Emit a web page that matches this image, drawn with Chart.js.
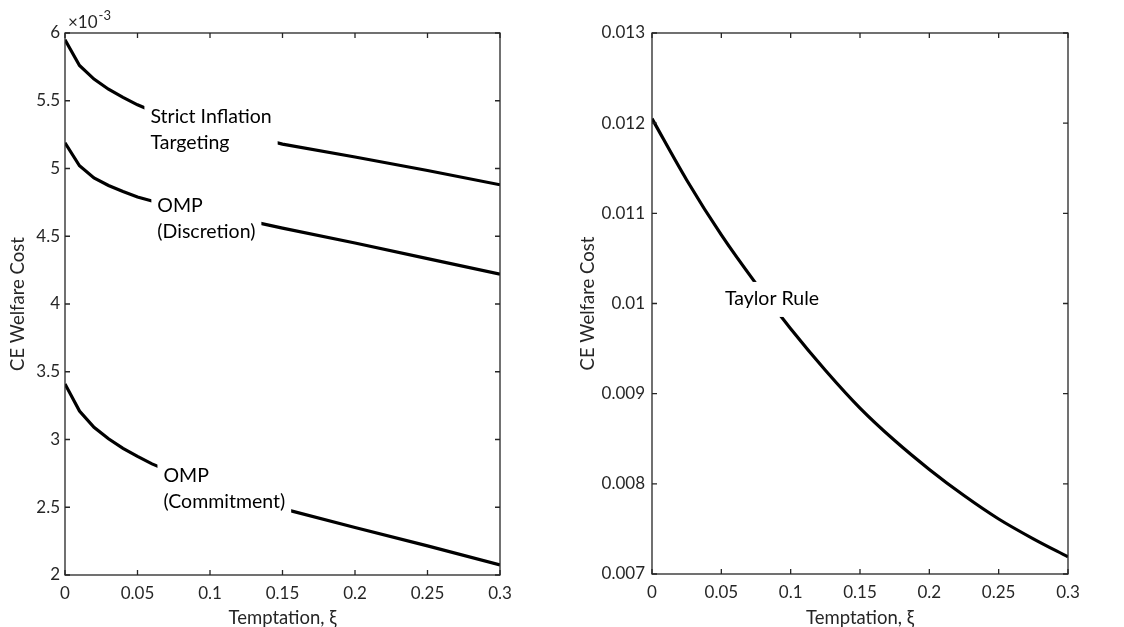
<!DOCTYPE html>
<html>
<head>
<meta charset="utf-8">
<script src="https://cdn.jsdelivr.net/npm/chart.js@4.4.0/dist/chart.umd.min.js"></script>
<style>
  body { margin: 0; background: #fff; }
  #left { position: absolute; left: 0; top: 0; }
  #right { position: absolute; left: 560px; top: 0; }
</style>
</head>
<body>
<canvas id="left" width="560" height="627"></canvas>
<canvas id="right" width="564" height="627"></canvas>
<script>
// temptation grid, left panel costs are in units of 1e-3
var xiLeft = [0, 0.01, 0.02, 0.03, 0.04, 0.05, 0.06, 0.08, 0.10, 0.12, 0.15, 0.20, 0.25, 0.30];
var strictIT = [5.95, 5.76, 5.66, 5.585, 5.525, 5.47, 5.425, 5.37, 5.31, 5.26, 5.18, 5.085, 4.985, 4.88];
var ompDiscretion = [5.19, 5.02, 4.93, 4.875, 4.83, 4.79, 4.76, 4.71, 4.67, 4.63, 4.56, 4.45, 4.335, 4.22];
var ompCommitment = [3.41, 3.21, 3.09, 3.005, 2.935, 2.875, 2.82, 2.73, 2.66, 2.59, 2.49, 2.35, 2.215, 2.075];

var xiRight = [0, 0.025, 0.05, 0.075, 0.1, 0.125, 0.15, 0.175, 0.2, 0.225, 0.25, 0.275, 0.3];
var taylorRule = [0.01205, 0.01137, 0.01076, 0.01022, 0.00972, 0.00926, 0.00884, 0.00848, 0.00816, 0.00787, 0.00761, 0.00739, 0.00719];

var xTicks = [0, 0.05, 0.1, 0.15, 0.2, 0.25, 0.3];
var yTicksLeft = [2, 2.5, 3, 3.5, 4, 4.5, 5, 5.5, 6];
var yTicksRight = [0.007, 0.008, 0.009, 0.01, 0.011, 0.012, 0.013];

var axisColor = '#262626';
var fontName = 'Lato, "DejaVu Sans", sans-serif';

function toPoints(xs, ys) {
    return xs.map(function (x, i) { return {x: x, y: ys[i]}; });
}

function fixedTicks(list) {
    return function (scale) {
        scale.ticks = list.map(function (v) { return {value: v}; });
    };
}

// closed box with short inward ticks on all four sides
var boxPlugin = {
    id: 'box',
    afterDraw: function (chart, args, opts) {
        var ctx = chart.ctx;
        var a = chart.chartArea;
        var sx = chart.scales.x, sy = chart.scales.y;
        ctx.save();
        ctx.strokeStyle = axisColor;
        ctx.lineWidth = 1.3;
        ctx.beginPath();
        sx.ticks.forEach(function (t) {
            var px = sx.getPixelForValue(t.value);
            ctx.moveTo(px, a.bottom); ctx.lineTo(px, a.bottom - 5);
            ctx.moveTo(px, a.top); ctx.lineTo(px, a.top + 5);
        });
        sy.ticks.forEach(function (t) {
            var py = sy.getPixelForValue(t.value);
            ctx.moveTo(a.left, py); ctx.lineTo(a.left + 5, py);
            ctx.moveTo(a.right, py); ctx.lineTo(a.right - 5, py);
        });
        ctx.stroke();
        ctx.strokeRect(a.left, a.top, a.right - a.left, a.bottom - a.top);

        // exponent note above the y axis
        if (opts.exponent) {
            ctx.fillStyle = axisColor;
            ctx.textBaseline = 'alphabetic';
            ctx.textAlign = 'left';
            ctx.font = '17px ' + fontName;
            ctx.fillText('\u00d710', a.left + 3, 28);
            var w = ctx.measureText('\u00d710').width;
            ctx.font = '13px ' + fontName;
            ctx.fillText(opts.exponent, a.left + 3 + w + 1, 20);
        }
        ctx.restore();
    }
};

// curve names on a white background, laid over the lines
var labelPlugin = {
    id: 'curveLabels',
    afterDatasetsDraw: function (chart, args, opts) {
        var ctx = chart.ctx;
        ctx.save();
        ctx.font = '19.5px ' + fontName;
        ctx.textAlign = 'left';
        ctx.textBaseline = 'alphabetic';
        (opts.items || []).forEach(function (item) {
            var px = chart.scales.x.getPixelForValue(item.x);
            var py = chart.scales.y.getPixelForValue(item.y);
            var w = Math.max.apply(null, item.lines.map(function (s) { return ctx.measureText(s).width; }));
            var h = (item.lines.length - 1) * 26;
            ctx.fillStyle = '#fff';
            ctx.fillRect(px - 6, py - 23, w + 12, h + 35);
            ctx.fillStyle = '#000';
            item.lines.forEach(function (s, i) { ctx.fillText(s, px, py + i * 26); });
        });
        ctx.restore();
    }
};

function lineSet(xs, ys, smooth) {
    return {
        data: toPoints(xs, ys),
        borderColor: '#000',
        borderWidth: 3.2,
        pointRadius: 0,
        fill: false,
        tension: 0,
        cubicInterpolationMode: smooth ? 'monotone' : 'default'
    };
}

function axisFont(size) {
    return {family: fontName, size: size};
}

function makeChart(id, datasets, yTicks, yAxisWidth, xAxisHeight, pad, titlePad, labelPad, labels, exponent) {
    var ctx = document.getElementById(id).getContext('2d');
    return new Chart(ctx, {
        type: 'line',
        data: {datasets: datasets},
        plugins: [labelPlugin, boxPlugin],
        options: {
            responsive: false,
            animation: false,
            events: [],
            layout: {padding: pad},
            plugins: {
                legend: {display: false},
                tooltip: {enabled: false},
                curveLabels: {items: labels},
                box: {exponent: exponent}
            },
            scales: {
                x: {
                    type: 'linear',
                    min: 0,
                    max: 0.3,
                    afterBuildTicks: fixedTicks(xTicks),
                    afterFit: function (s) { s.height = xAxisHeight; },
                    grid: {display: false, drawTicks: false},
                    border: {display: false},
                    ticks: {
                        color: axisColor, font: axisFont(17), padding: 8,
                        maxRotation: 0, autoSkip: false,
                        callback: function (v) { return String(v); }
                    },
                    title: {
                        display: true, text: 'Temptation, \u03be', color: axisColor,
                        font: axisFont(18.5), padding: {top: 0, bottom: -2}
                    }
                },
                y: {
                    type: 'linear',
                    min: yTicks[0],
                    max: yTicks[yTicks.length - 1],
                    afterBuildTicks: fixedTicks(yTicks),
                    afterFit: function (s) { s.width = yAxisWidth; },
                    grid: {display: false, drawTicks: false},
                    border: {display: false},
                    ticks: {
                        color: axisColor, font: axisFont(17), padding: labelPad,
                        autoSkip: false,
                        callback: function (v) { return String(v); }
                    },
                    title: {
                        display: true, text: 'CE Welfare Cost', color: axisColor,
                        font: axisFont(18.5), padding: {top: titlePad, bottom: 0}
                    }
                }
            }
        }
    });
}

makeChart('left',
    [lineSet(xiLeft, strictIT), lineSet(xiLeft, ompDiscretion), lineSet(xiLeft, ompCommitment)],
    yTicksLeft, 65, 52, {top: 33, right: 60, bottom: 0, left: 0}, 7, 5,
    [
        {x: 0.0589, y: 5.336, lines: ['Strict Inflation', 'Targeting']},
        {x: 0.0637, y: 4.679, lines: ['OMP', '(Discretion)']},
        {x: 0.0679, y: 2.686, lines: ['OMP', '(Commitment)']}
    ],
    '-3');

makeChart('right',
    [lineSet(xiRight, taylorRule, true)],
    yTicksRight, 92, 53, {top: 33, right: 56, bottom: 0, left: 0}, 17, 7,
    [
        {x: 0.0526, y: 0.009984, lines: ['Taylor Rule']}
    ],
    null);
</script>
</body>
</html>
